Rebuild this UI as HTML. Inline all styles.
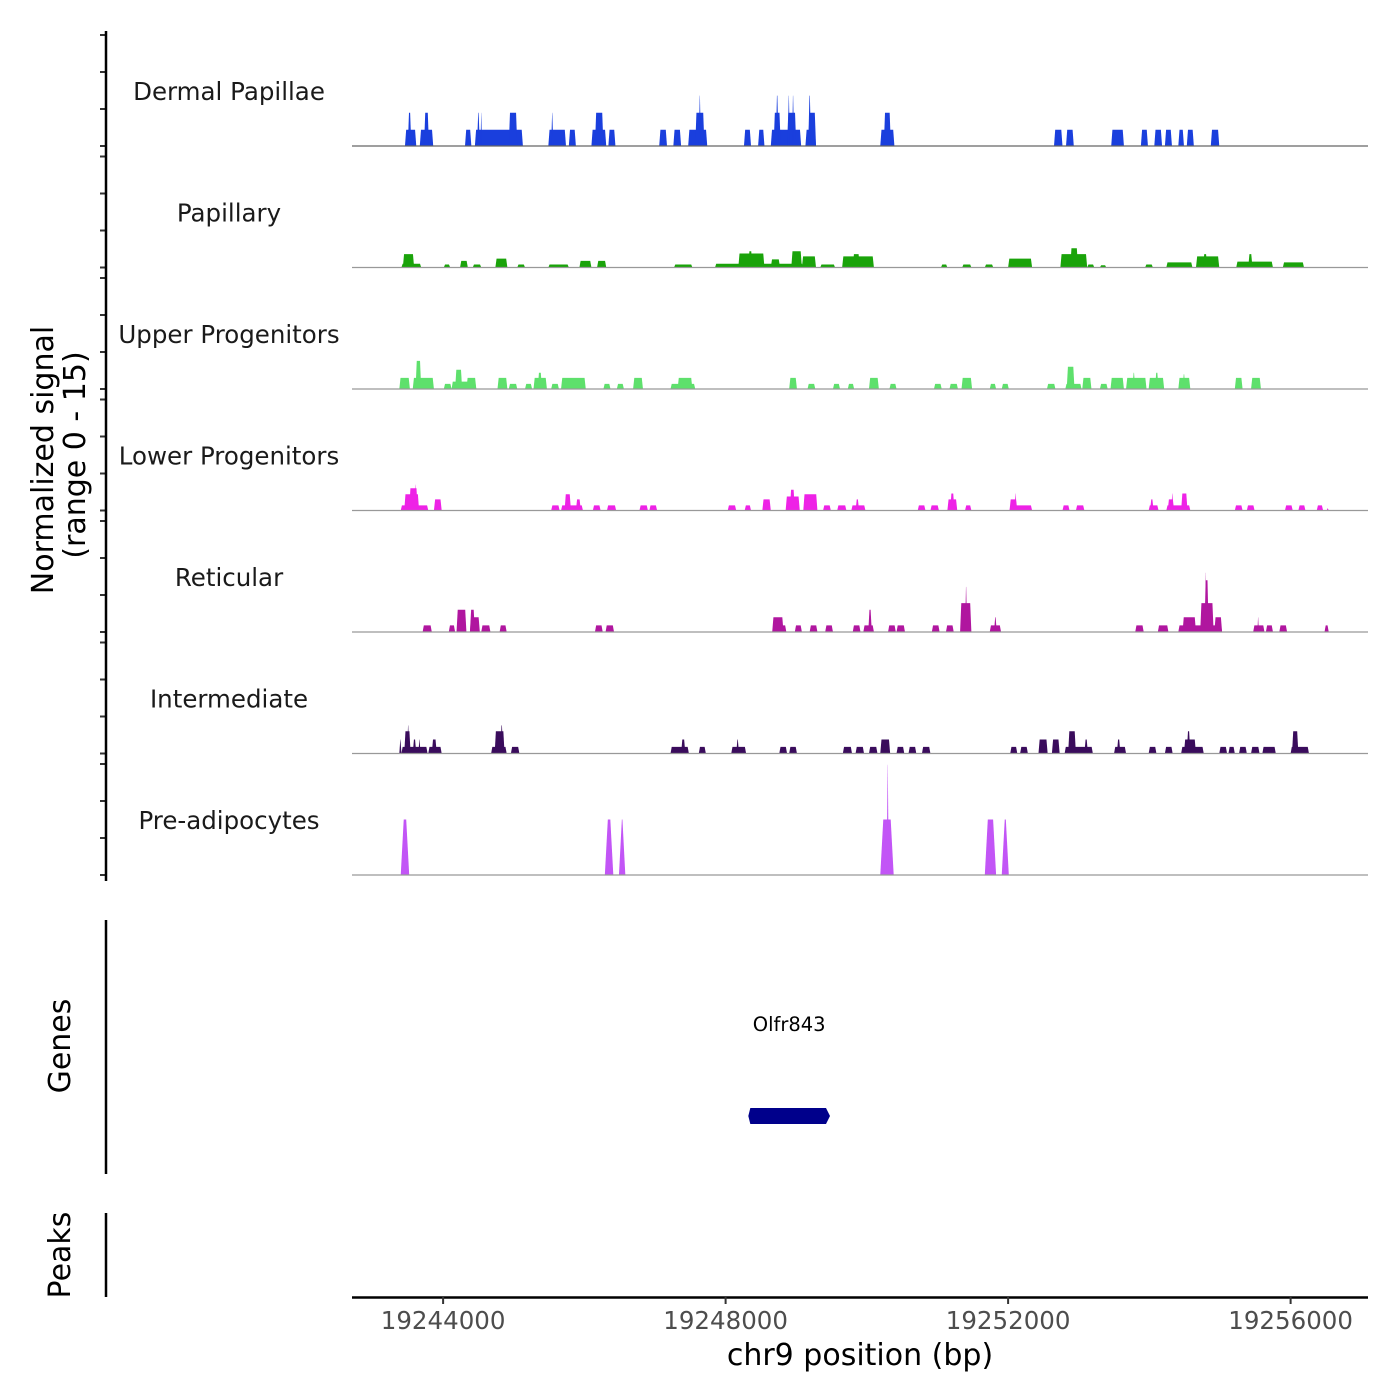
<!DOCTYPE html>
<html><head><meta charset="utf-8"><style>
html,body{margin:0;padding:0;background:#fff;}
svg{display:block;font-family:"DejaVu Sans","Liberation Sans",sans-serif;}
</style></head><body>
<svg id="chart" width="1400" height="1400" viewBox="0 0 1400 1400" xmlns="http://www.w3.org/2000/svg">
<g id="tracks"></g>
<g id="axes"></g>
</svg>
<script>
// ---- data (positions in kb, values in normalized signal 0-15) ----
const trackNames = ["Dermal Papillae","Papillary","Upper Progenitors","Lower Progenitors","Reticular","Intermediate","Pre-adipocytes"];
const trackColors = ["#1a3fdd","#1aa30a","#5ee06c","#ee22e6","#b0169f","#3a0c5c","#c255f6"];
const xTickValues = [19244000,19248000,19252000,19256000];
const xTickLabels = ["19244000","19248000","19252000","19256000"];
const yTickValues = [0,5,10,15];
const geneNames = ["Olfr843"];
const geneStarts = [19248.35];
const geneEnds = [19249.45];

const dermal = [
[19243.46,19243.62,2.2],[19243.50,19243.55,4.5],[19243.67,19243.86,2.2],[19243.73,19243.80,4.5],
[19244.31,19244.40,2.2],[19244.45,19245.13,2.2],[19244.48,19244.52,4.5],[19244.53,19244.55,4.5],[19244.93,19245.05,4.5],
[19245.49,19245.74,2.2],[19245.53,19245.56,4.5],[19245.78,19245.88,2.2],[19246.10,19246.31,2.2],[19246.15,19246.27,4.5],
[19246.34,19246.44,2.2],[19247.06,19247.17,2.2],[19247.26,19247.37,2.2],[19247.47,19247.74,2.2],[19247.57,19247.70,4.5],[19247.62,19247.65,6.8],
[19248.26,19248.36,2.2],[19248.46,19248.55,2.2],[19248.64,19249.07,2.2],[19248.68,19248.78,4.5],[19248.71,19248.75,6.8],[19248.87,19249.00,4.5],
[19248.88,19248.91,6.8],[19248.94,19248.97,6.8],[19249.13,19249.28,2.2],[19249.17,19249.28,4.5],[19249.17,19249.21,6.8],
[19250.19,19250.39,2.2],[19250.24,19250.34,4.5],[19252.65,19252.77,2.2],[19252.82,19252.93,2.2],[19253.46,19253.64,2.2],
[19253.88,19253.98,2.2],[19254.07,19254.18,2.2],[19254.22,19254.32,2.2],[19254.41,19254.49,2.2],[19254.53,19254.63,2.2],[19254.87,19254.99,2.2]];
const papillary = [
[19243.41,19243.69,0.5],[19243.43,19243.59,1.8],[19244.01,19244.10,0.4],[19244.24,19244.35,0.9],[19244.42,19244.54,0.4],
[19244.74,19244.91,1.2],[19245.05,19245.16,0.4],[19245.49,19245.78,0.4],[19245.93,19246.10,0.9],[19246.18,19246.31,0.9],
[19247.27,19247.53,0.4],[19247.85,19249.10,0.5],[19248.18,19248.55,1.9],[19248.32,19248.38,2.2],[19248.64,19248.77,1.1],
[19248.93,19249.08,2.2],[19249.08,19249.28,1.5],[19249.34,19249.55,0.4],[19249.65,19250.10,1.5],[19249.80,19249.90,1.8],
[19251.05,19251.14,0.4],[19251.35,19251.48,0.4],[19251.67,19251.79,0.4],[19252.00,19252.34,1.2],[19252.74,19253.12,1.8],
[19252.88,19252.99,2.6],[19253.12,19253.22,0.4],[19253.30,19253.39,0.3],[19253.94,19254.05,0.4],[19254.24,19254.61,0.7],
[19254.66,19254.99,1.5],[19254.76,19254.82,1.8],[19255.23,19255.75,0.8],[19255.40,19255.46,1.8],[19255.89,19256.19,0.7]];
const upper = [
[19243.38,19243.53,1.5],[19243.57,19243.87,1.5],[19243.61,19243.69,3.8],[19244.01,19244.12,0.7],[19244.12,19244.47,1.0],
[19244.17,19244.27,2.6],[19244.33,19244.47,1.5],[19244.77,19244.91,1.5],[19244.93,19245.05,0.7],[19245.16,19245.26,0.7],
[19245.28,19245.47,1.5],[19245.34,19245.40,2.2],[19245.53,19245.64,0.7],[19245.67,19246.02,1.5],[19246.27,19246.37,0.7],
[19246.46,19246.56,0.7],[19246.69,19246.83,1.5],[19247.22,19247.57,0.7],[19247.32,19247.53,1.5],[19248.90,19249.01,1.5],
[19249.16,19249.27,0.7],[19249.52,19249.62,0.7],[19249.73,19249.82,0.7],[19250.03,19250.17,1.5],[19250.32,19250.42,0.7],
[19250.95,19251.06,0.7],[19251.17,19251.29,0.7],[19251.34,19251.49,1.5],[19251.74,19251.83,0.7],[19251.91,19252.01,0.7],
[19252.55,19252.67,0.7],[19252.81,19253.04,0.7],[19252.83,19252.94,3.0],[19253.05,19253.18,1.5],[19253.30,19253.41,0.7],
[19253.45,19253.64,1.5],[19253.67,19253.96,1.5],[19253.76,19253.80,2.2],[19253.99,19254.21,1.5],[19254.08,19254.13,2.2],
[19254.41,19254.58,1.5],[19254.47,19254.51,2.0],[19255.21,19255.32,1.5],[19255.44,19255.58,1.5]];
const lower = [
[19243.40,19243.79,0.7],[19243.45,19243.66,2.2],[19243.52,19243.64,3.0],[19243.59,19243.62,3.5],[19243.87,19243.98,1.5],
[19245.53,19245.65,0.7],[19245.67,19245.98,0.7],[19245.72,19245.81,2.2],[19245.88,19245.95,1.5],[19246.12,19246.23,0.7],
[19246.32,19246.45,0.7],[19246.78,19246.90,0.7],[19246.92,19247.03,0.7],[19248.03,19248.15,0.7],[19248.27,19248.36,0.7],
[19248.52,19248.64,1.5],[19248.85,19249.05,1.9],[19248.91,19248.98,2.8],[19249.10,19249.30,2.2],[19249.38,19249.49,0.7],
[19249.58,19249.71,0.7],[19249.78,19249.98,0.7],[19249.84,19249.89,1.5],[19250.72,19250.83,0.7],[19250.90,19251.02,0.7],
[19251.14,19251.28,1.5],[19251.18,19251.24,2.3],[19251.39,19251.48,0.7],[19252.02,19252.34,0.7],[19252.02,19252.13,1.5],
[19252.09,19252.12,2.3],[19252.77,19252.87,0.7],[19252.96,19253.08,0.7],[19253.99,19254.13,0.7],[19254.01,19254.06,1.5],
[19254.24,19254.58,0.7],[19254.26,19254.35,1.5],[19254.31,19254.34,2.3],[19254.45,19254.54,2.3],[19255.21,19255.32,0.7],
[19255.38,19255.49,0.7],[19255.92,19256.03,0.7],[19256.11,19256.21,0.7],[19256.37,19256.46,0.7],[19256.51,19256.54,0.3]];
const reticular = [
[19243.71,19243.84,0.9],[19244.08,19244.17,0.9],[19244.19,19244.33,3.0],[19244.38,19244.45,3.0],[19244.38,19244.52,2.0],
[19244.54,19244.67,0.9],[19244.80,19244.90,0.9],[19246.15,19246.26,0.9],[19246.30,19246.42,0.9],[19248.66,19248.82,2.0],
[19248.78,19248.86,0.9],[19248.98,19249.08,0.9],[19249.19,19249.30,0.9],[19249.41,19249.52,0.9],[19249.80,19249.91,0.9],
[19249.95,19250.10,0.9],[19250.02,19250.07,3.0],[19250.30,19250.41,0.9],[19250.42,19250.54,0.9],[19250.92,19251.03,0.9],
[19251.12,19251.23,0.9],[19251.32,19251.48,3.9],[19251.39,19251.42,6.1],[19251.74,19251.90,0.9],[19251.80,19251.84,2.0],
[19253.80,19253.92,0.9],[19254.12,19254.27,0.9],[19254.41,19255.03,0.9],[19254.47,19254.66,2.0],[19254.72,19254.91,3.9],
[19254.78,19254.84,7.0],[19254.79,19254.81,8.0],[19254.92,19255.03,2.0],[19255.47,19255.63,0.9],[19255.53,19255.55,2.0],
[19255.65,19255.75,0.9],[19255.84,19255.95,0.9],[19256.48,19256.54,0.9]];
const intermediate = [
[19243.38,19243.41,1.9],[19243.41,19243.78,0.9],[19243.45,19243.54,3.0],[19243.49,19243.52,3.8],[19243.57,19243.62,1.9],
[19243.65,19243.68,1.9],[19243.79,19243.98,0.9],[19243.84,19243.91,1.9],[19244.68,19244.90,0.9],[19244.73,19244.87,3.0],
[19244.81,19244.85,3.8],[19244.96,19245.08,0.9],[19247.22,19247.48,0.9],[19247.37,19247.43,1.9],[19247.62,19247.72,0.9],
[19248.08,19248.29,0.9],[19248.15,19248.19,1.9],[19248.76,19248.87,0.9],[19248.90,19249.01,0.9],[19249.66,19249.79,0.9],
[19249.84,19249.96,0.9],[19250.03,19250.15,0.9],[19250.19,19250.33,1.9],[19250.42,19250.53,0.9],[19250.59,19250.70,0.9],
[19250.78,19250.90,0.9],[19252.03,19252.13,0.9],[19252.17,19252.28,0.9],[19252.43,19252.56,1.9],[19252.62,19252.73,1.9],
[19252.80,19253.20,0.9],[19252.85,19252.96,3.0],[19253.08,19253.13,1.9],[19253.50,19253.67,0.9],[19253.54,19253.59,1.9],
[19253.99,19254.10,0.9],[19254.22,19254.33,0.9],[19254.45,19254.77,0.9],[19254.49,19254.66,1.9],[19254.53,19254.58,3.0],
[19254.99,19255.10,0.9],[19255.12,19255.21,0.9],[19255.27,19255.38,0.9],[19255.44,19255.56,0.9],[19255.60,19255.79,0.9],
[19256.00,19256.26,0.9],[19256.02,19256.11,3.0]];
const preadipo = [
[19243.40,19243.52,7.5],[19246.29,19246.41,7.5],[19246.49,19246.58,7.5],[19250.19,19250.38,7.5],[19250.28,19250.31,14.9],
[19251.67,19251.83,7.5],[19251.91,19252.01,7.5]];
const trackData = [dermal,papillary,upper,lower,reticular,intermediate,preadipo];

// ---- scales ----
const NS = "http://www.w3.org/2000/svg";
const X0 = 352, X1 = 1368, KB0 = 19242.71, PXPERKB = 70.625;
function xScale(kb){ return X0 + (kb - KB0) * PXPERKB; }
function xScaleBp(bp){ return xScale(bp/1000); }
const BASE0 = 146, TRACKSTEP = 121.5, UNITPX = 7.4;
function baseY(i){ return BASE0 + i*TRACKSTEP; }
function yScale(i, v){ return baseY(i) - v*UNITPX; }

function mk(tag, attrs, parent){
  const el = document.createElementNS(NS, tag);
  for (const k in attrs) el.setAttribute(k, attrs[k]);
  parent.appendChild(el);
  return el;
}
const tracksG = document.getElementById('tracks');
const axesG = document.getElementById('axes');

trackNames.forEach((name, i) => {
  const g = mk('g', {}, tracksG);
  
  
  const lbl = mk('text', {x:229, y:baseY(i)-46, 'text-anchor':'middle', 'font-size':24.5, fill:'#1a1a1a'}, g);
  lbl.textContent = name;
  
  
  const slopeBase = (i === 6) ? 3 : 1.2;
  trackData[i].forEach(b => {
    const xs = xScale(b[0]), xe = xScale(b[1]);
    const yb = baseY(i), yt = yScale(i, b[2]);
    const s = Math.min(slopeBase, (xe - xs)/2.2);
    const p = mk('polygon', {points:`${xs},${yb} ${xs+s},${yt} ${xe-s},${yt} ${xe},${yb}`, fill:trackColors[i]}, g);
    
    
  });
  const bl = mk('line', {x1:X0, x2:X1, y1:baseY(i), y2:baseY(i), stroke: i===0 ? '#666' : '#999', 'stroke-width':1.2}, g);
  
  
  yTickValues.forEach(v => {
    const t = mk('line', {x1:100, x2:106, y1:yScale(i, v*0.9999), y2:yScale(i, v*0.9999), stroke:'#333', 'stroke-width':2}, axesG);
    
    
  });
});

// y axis
let el = mk('line', {x1:106, x2:106, y1:31, y2:881, stroke:'#000', 'stroke-width':2.5}, axesG);


el = mk('text', {transform:'translate(53,460) rotate(-90)', 'text-anchor':'middle', 'font-size':30, fill:'#000'}, axesG);
el.textContent = 'Normalized signal';


el = mk('text', {transform:'translate(85,455) rotate(-90)', 'text-anchor':'middle', 'font-size':30, fill:'#000'}, axesG);
el.textContent = '(range 0 - 15)';



// genes panel
el = mk('line', {x1:106, x2:106, y1:920, y2:1174, stroke:'#000', 'stroke-width':2.5}, axesG);


el = mk('text', {transform:'translate(70,1046) rotate(-90)', 'text-anchor':'middle', 'font-size':30, fill:'#000'}, axesG);
el.textContent = 'Genes';


geneNames.forEach((gn, k) => {
  const xs = xScale(geneStarts[k]), xe = xScale(geneEnds[k]);
  const r = mk('polygon', {points:`${xs},1108 ${xe-2},1108 ${xe+2},1116 ${xe-2},1124 ${xs},1124 ${xs-2},1116`, fill:'#00008b'}, tracksG);
  
  
  const t = mk('text', {x:(xs+xe)/2, y:1031, 'text-anchor':'middle', 'font-size':19.5, fill:'#000'}, tracksG);
  t.textContent = gn;
  
  
});

// peaks panel
el = mk('line', {x1:106, x2:106, y1:1213, y2:1297, stroke:'#000', 'stroke-width':2.5}, axesG);


el = mk('text', {transform:'translate(70,1255) rotate(-90)', 'text-anchor':'middle', 'font-size':30, fill:'#000'}, axesG);
el.textContent = 'Peaks';



// x axis
el = mk('line', {x1:X0, x2:X1, y1:1297.5, y2:1297.5, stroke:'#000', 'stroke-width':2.5}, axesG);


xTickValues.forEach((v, k) => {
  const x = xScaleBp(v);
  const t = mk('line', {x1:x, x2:x, y1:1297, y2:1304, stroke:'#333', 'stroke-width':2}, axesG);
  
  
  const l = mk('text', {x:x, y:1329, 'text-anchor':'middle', 'font-size':24.5, fill:'#4d4d4d'}, axesG);
  l.textContent = xTickLabels[k];
  
  
});
el = mk('text', {x:860, y:1365, 'text-anchor':'middle', 'font-size':30, fill:'#000'}, axesG);
el.textContent = 'chr9 position (bp)';


</script>
</body></html>
